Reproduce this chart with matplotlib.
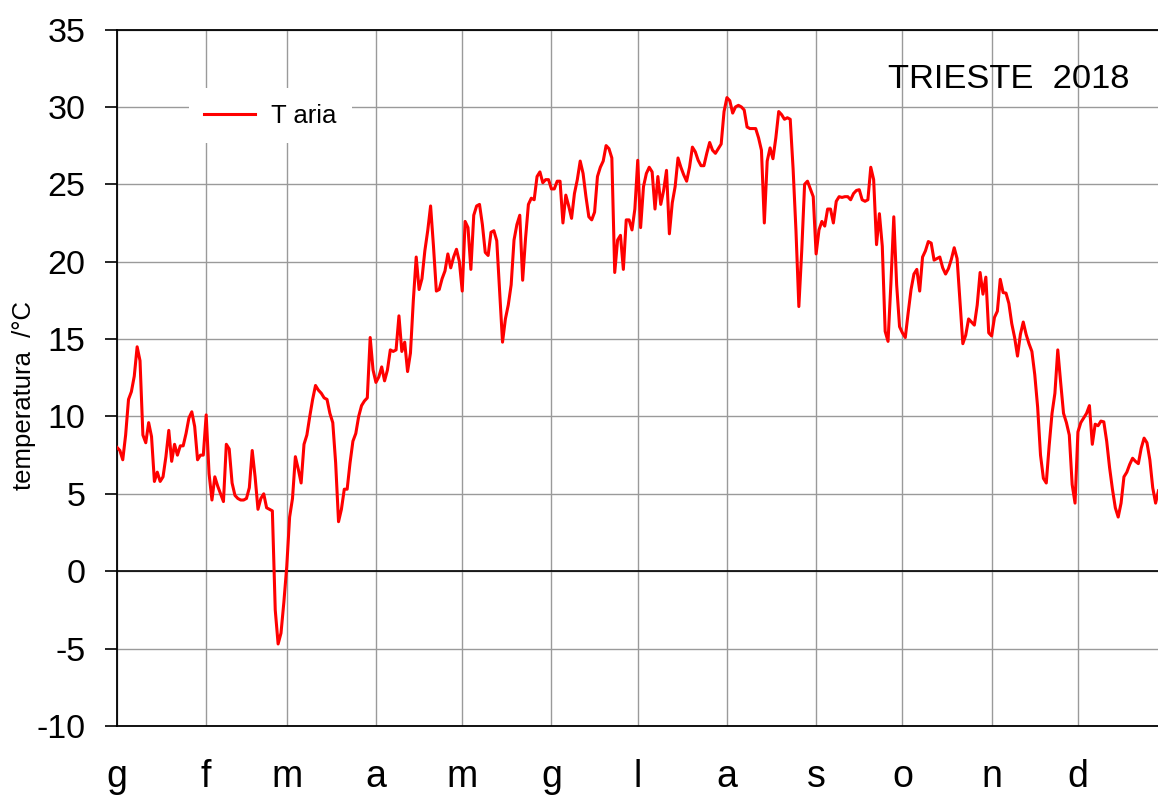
import matplotlib
matplotlib.use('Agg')
import matplotlib.pyplot as plt
import numpy as np

plt.rcParams['font.family'] = ['Liberation Sans', 'DejaVu Sans']
plt.rcParams['axes.unicode_minus'] = False

# iniziali dei mesi e giorno dell'anno in cui iniziano
mesi = ['g', 'f', 'm', 'a', 'm', 'g', 'l', 'a', 's', 'o', 'n', 'd']
inizio_mese = [1, 32, 60, 91, 121, 152, 182, 213, 244, 274, 305, 335]

# temperatura media giornaliera dell'aria (°C)
t_gen = [8.0, 7.8, 7.2, 8.8, 11.1, 11.6, 12.6, 14.5, 13.6, 8.8, 8.3, 9.6, 8.7, 5.8, 6.4, 5.8,
         6.1, 7.4, 9.1, 7.1, 8.2, 7.5, 8.1, 8.1, 8.9, 9.9, 10.3, 9.35, 7.2, 7.5, 7.5]
t_feb = [10.1, 6.3, 4.6, 6.1, 5.5, 5.0, 4.5, 8.2, 7.9, 5.7, 4.9, 4.7, 4.6, 4.6, 4.7, 5.4,
         7.8, 6.1, 4.0, 4.7, 5.0, 4.1, 4.0, 3.9, -2.5, -4.7, -4.0, -2.0]
t_mar = [0.3, 3.5, 4.7, 7.4, 6.6, 5.7, 8.2, 8.8, 10.0, 11.1, 12.0, 11.7, 11.5, 11.2, 11.1, 10.2,
         9.6, 7.0, 3.2, 4.0, 5.3, 5.3, 7.0, 8.4, 8.9, 10.0, 10.7, 11.0, 11.2, 15.1, 13.0]
t_apr = [12.2, 12.55, 13.2, 12.3, 13.0, 14.3, 14.2, 14.3, 16.5, 14.2, 14.8, 12.9, 14.1, 17.5, 20.3,
         18.2, 18.9, 20.7, 22.0, 23.6, 21.0, 18.1, 18.2, 18.9, 19.4, 20.5, 19.6, 20.3, 20.8, 20.0]
t_mag = [18.1, 22.6, 22.2, 19.5, 23.0, 23.6, 23.7, 22.4, 20.6, 20.4, 21.9, 22.0, 21.35, 18.1, 14.8, 16.3,
         17.2, 18.5, 21.4, 22.4, 23.0, 18.8, 21.5, 23.7, 24.1, 24.0, 25.5, 25.8, 25.1, 25.3, 25.3]
t_giu = [24.7, 24.7, 25.2, 25.2, 22.5, 24.3, 23.6, 22.8, 24.4, 25.3, 26.5, 25.7, 24.2, 22.9, 22.7,
         23.2, 25.5, 26.1, 26.5, 27.5, 27.3, 26.7, 19.3, 21.4, 21.7, 19.5, 22.7, 22.7, 22.05, 23.4]
t_lug = [26.55, 22.2, 24.85, 25.7, 26.1, 25.8, 23.4, 25.5, 23.7, 24.6, 25.9, 21.8, 23.8, 24.85, 26.7, 26.1,
         25.6, 25.2, 26.1, 27.4, 27.1, 26.55, 26.2, 26.2, 27.0, 27.7, 27.2, 27.0, 27.3, 27.6, 29.7]
t_ago = [30.6, 30.4, 29.6, 30.0, 30.1, 30.0, 29.8, 28.7, 28.6, 28.6, 28.6, 28.0, 27.2, 22.5, 26.5, 27.35,
         26.65, 28.0, 29.7, 29.5, 29.2, 29.3, 29.2, 26.0, 22.0, 17.1, 20.7, 25.0, 25.2, 24.7, 24.2]
t_set = [20.5, 22.05, 22.6, 22.3, 23.4, 23.4, 22.5, 23.9, 24.2, 24.15, 24.2, 24.2, 24.0, 24.4, 24.6,
         24.65, 24.0, 23.9, 24.0, 26.1, 25.3, 21.1, 23.1, 21.0, 15.5, 14.85, 18.6, 22.9, 18.5, 15.8]
t_ott = [15.4, 15.1, 16.7, 18.2, 19.2, 19.5, 18.1, 20.3, 20.7, 21.3, 21.2, 20.1, 20.2, 20.3, 19.6, 19.2,
         19.55, 20.15, 20.9, 20.2, 17.5, 14.7, 15.25, 16.3, 16.1, 15.9, 17.2, 19.3, 17.9, 19.0, 15.4]
t_nov = [15.2, 16.4, 16.8, 18.86, 18.0, 17.97, 17.3, 16.0, 15.1, 13.9, 15.3, 16.1, 15.3, 14.7, 14.2,
         12.7, 10.6, 7.5, 6.0, 5.7, 8.1, 10.2, 11.5, 14.3, 12.2, 10.2, 9.6, 8.8, 5.6, 4.4]
t_dic = [9.0, 9.6, 9.9, 10.2, 10.7, 8.2, 9.5, 9.4, 9.7, 9.65, 8.4, 6.7, 5.3, 4.1, 3.5, 4.4,
         6.1, 6.4, 6.9, 7.3, 7.1, 6.95, 7.95, 8.6, 8.3, 7.2, 5.4, 4.4, 5.2]

t_aria = (t_gen + t_feb + t_mar + t_apr + t_mag + t_giu + t_lug + t_ago + t_set + t_ott
          + t_nov + t_dic)
giorni = np.arange(1, len(t_aria) + 1)

W, H = 1158, 798
fig = plt.figure(figsize=(W / 100, H / 100), dpi=100)
ax = fig.add_axes([117 / W, 72 / H, 1041 / W, 696.5 / H])

ax.plot(giorni, t_aria, color='#ff0000', lw=2.2, label='T aria', zorder=3)

ax.set_xlim(1, 1 + 1041 / 2.877)
ax.set_ylim(-10, 35)
ax.set_yticks(np.arange(-10, 36, 5))
ax.set_xticks(inizio_mese)
ax.set_xticklabels(mesi, fontsize=27)
ax.tick_params(axis='x', length=0, pad=24)
ax.tick_params(axis='y', length=8.6, width=1.2, labelsize=24.5, pad=14, direction='out')

ax.grid(True, color='#9a9a9a', lw=1.0)
ax.set_axisbelow(True)
ax.axhline(0, color='black', lw=1.2, zorder=2)
for s in ['left', 'bottom', 'top']:
    ax.spines[s].set_color('black')
    ax.spines[s].set_linewidth(1.3)
ax.spines['right'].set_visible(False)

ax.legend(loc='center', bbox_to_anchor=(0.147, 0.876), frameon=True, facecolor='white',
          edgecolor='none', framealpha=1, fancybox=False, fontsize=18.5,
          handlelength=2.0, handletextpad=0.6, borderpad=0.6)

fig.text(24 / W, 1 - 395 / H, 'temperatura  /°C', rotation=90, fontsize=18.5,
         ha='center', va='center')
fig.text(888 / W, 1 - 80 / H, 'TRIESTE  2018', fontsize=24.8, ha='left', va='center')

fig.savefig('out.png', dpi=100)
